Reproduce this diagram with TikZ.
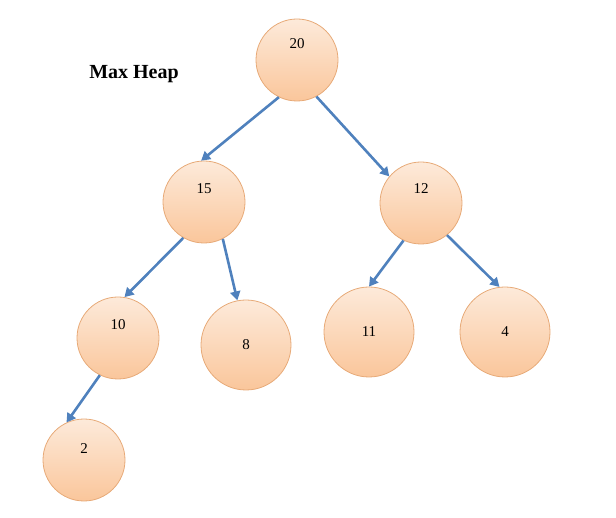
\documentclass[tikz,border=0pt]{standalone}
\usepackage{fontspec}
\setmainfont{Liberation Serif}
\usepackage{tikz}
\usetikzlibrary{shapes.geometric, arrows.meta, positioning}

\definecolor{peachtop}{RGB}{253,234,218}
\definecolor{peachbot}{RGB}{250,198,155}
\definecolor{peachline}{RGB}{231,170,120}
\definecolor{arrowblue}{RGB}{79,129,189}

\begin{document}
\begin{tikzpicture}[
        x=1pt, y=-1pt,
        key/.style={draw=peachline, line width=0.8pt, circle, inner sep=0pt,
            top color=peachtop, bottom color=peachbot, font=\fontsize{15}{17}\selectfont},
        every label/.style={font=\fontsize{15}{17}\selectfont},
        small/.style={minimum size=82pt},
        big/.style={minimum size=90pt},
        arrow/.style={-{Triangle[length=9pt,width=10pt]}, arrowblue, line width=2.6pt}
    ]
        \useasboundingbox (0,0) rectangle (616,518);

        % Title
        \node (title) at (134,74) {\fontsize{20}{24}\selectfont\bfseries Max Heap};

        % Keys
        \node (k20) [key, small, label={[yshift=16pt]center:20}] at (297,60) {};
        \node (k15) [key, small, label={[yshift=13pt]center:15}] at (204,202) {};
        \node (k12) [key, small, label={[yshift=14pt]center:12}] at (421,203) {};
        \node (k10) [key, small, label={[yshift=13pt]center:10}] at (118,338) {};
        \node (k8) [key, big] at (246,345) {8};
        \node (k11) [key, big] at (369,332) {11};
        \node (k4) [key, big] at (505,332) {4};
        \node (k2) [key, small, label={[yshift=11pt]center:2}] at (84,460) {};

        % Edges
        \draw [arrow] (k20.244) -- (k15.94);
        \draw [arrow] (k20.298) -- (k12.140);
        \draw [arrow] (k15.240) -- (k10.81);
        \draw [arrow] (k15.297) -- (k8.101);
        \draw [arrow] (k12.245) -- (k11.90);
        \draw [arrow] (k12.309) -- (k4.97);
        \draw [arrow] (k10.244) -- (k2.115);
    \end{tikzpicture}
\end{document}
